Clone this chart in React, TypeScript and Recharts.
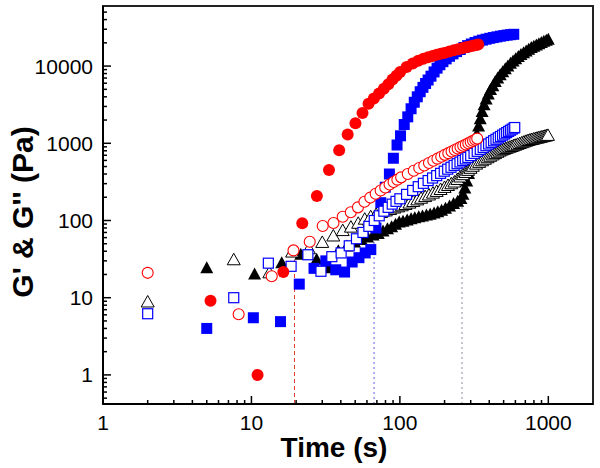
import React from 'react';
import { ScatterChart, Scatter, XAxis, YAxis, ReferenceLine, ReferenceArea, Label } from 'recharts';

// [time (s), modulus (Pa)]
const redStorage: [number, number][] = [
  [5.3, 9.1], [11, 1.0], [16.4, 21.5], [22, 92], [27.6, 207], [33.3, 450], [39, 810], [44.5, 1300],
  [50.2, 1820], [56, 2460], [61.5, 3250], [66.8, 3800], [72.4, 4400], [78, 5100], [83.6, 5800],
  [89.2, 6700], [94.8, 7500], [100.4, 8400], [111, 9700], [122, 10800], [133, 11700], [144, 12400],
  [155, 13000], [166, 13500], [177, 14000], [188, 14400], [199, 14800], [215, 15400], [231, 16000],
  [247, 16500], [263, 17000], [279, 17500], [295, 17900], [311, 18300], [327, 18700], [337, 19000],
];
const redLoss: [number, number][] = [
  [2, 21], [8.2, 6.1], [13.7, 19], [19.2, 41], [24.7, 53], [30.2, 85], [35.7, 93], [41.2, 112],
  [46.7, 128], [52.2, 148], [57.7, 175], [63.2, 198], [68.7, 222], [74.2, 245], [79.7, 268],
  [85.2, 292], [90.7, 315], [96.2, 338], [102, 362], [113, 400], [124, 440], [135, 478], [146, 516],
  [157, 555], [168, 595], [179, 632], [190, 670], [201, 708], [212, 745], [223, 782], [234, 820],
  [245, 856], [256, 892], [267, 930], [278, 966], [289, 1002], [300, 1040], [311, 1076],
  [322, 1112], [332, 1150],
];
const blueStorage: [number, number][] = [
  [5, 4.0], [10.3, 5.5], [15.7, 4.9], [21, 15], [26.4, 24], [31.7, 30], [37, 23], [42.4, 21.5],
  [47.7, 29], [53, 33], [58.4, 38], [63.7, 42], [69, 80], [74.4, 170], [79.7, 270], [85, 400],
  [90.4, 640], [95.7, 950], [101, 1250], [107, 1750], [113, 2200], [119, 2800], [125, 3400],
  [131, 4000], [137, 4650], [143, 5300], [149, 5950], [155, 6600], [162, 7400], [170, 8400],
  [178, 9400], [186, 10400], [195, 11400], [205, 12400], [216, 13400], [228, 14400], [241, 15400],
  [255, 16400], [270, 17400], [286, 18400], [303, 19300], [321, 20200], [340, 21000], [360, 21700],
  [381, 22300], [403, 22900], [426, 23400], [450, 23900], [475, 24400], [501, 24800], [528, 25200],
  [556, 25500], [585, 25800],
];
const blueLoss: [number, number][] = [
  [2, 6.2], [7.6, 10], [13, 28], [18.5, 25.5], [24, 36], [29.4, 22], [34.8, 34], [40.2, 38],
  [45.6, 47], [51, 58], [56.4, 70], [61.8, 84], [67.2, 100], [72.6, 115], [78, 132], [83.4, 148],
  [88.8, 163], [94.2, 177], [100, 191], [111, 218], [122, 245], [133, 274], [144, 303], [155, 329],
  [166, 355], [177, 381], [188, 408], [199, 435], [210, 462], [221, 489], [232, 517], [243, 544],
  [254, 572], [265, 599], [276, 627], [287, 656], [300, 694], [316, 740], [332, 787], [348, 834],
  [364, 882], [380, 931], [396, 980], [412, 1028], [428, 1078], [444, 1126], [460, 1175],
  [476, 1225], [492, 1274], [508, 1324], [524, 1375], [540, 1425], [556, 1476], [572, 1527],
  [588, 1578], [594, 1600],
];
const blackStorage: [number, number][] = [
  [5, 24], [10.5, 20], [16, 28], [21.5, 36], [27.5, 31], [33, 24], [38.5, 40], [44, 46], [49.5, 52],
  [55, 56], [60.5, 60], [66, 64], [71.5, 67], [77, 72], [82.5, 77], [88, 82], [93.5, 88], [99, 94],
  [105, 96], [112, 100], [119, 104], [126, 107], [134, 110], [142, 113], [151, 116], [160, 119],
  [170, 123], [180, 128], [191, 134], [203, 142], [216, 152], [230, 163], [245, 175], [258, 190],
  [266, 215], [274, 260], [282, 320], [290, 400], [298, 500], [306, 600], [314, 760], [322, 1000],
  [330, 1300], [339, 1650], [348, 2050], [358, 2550], [369, 3100], [381, 3700], [394, 4300],
  [408, 4900], [423, 5500], [439, 6200], [456, 6900], [474, 7600], [493, 8300], [513, 9100],
  [534, 9900], [556, 10700], [579, 11500], [603, 12300], [628, 13100], [654, 13900], [681, 14700],
  [709, 15500], [738, 16300], [768, 17100], [799, 17800], [831, 18500], [864, 19200], [898, 19900],
  [933, 20600], [969, 21300], [1000, 22000],
];
const blackLoss: [number, number][] = [
  [2, 8.8], [7.6, 31], [13.2, 21], [18.8, 39], [24.4, 43], [30, 52], [35.6, 63], [41.2, 74],
  [46.8, 82], [52.4, 92], [58, 104], [63.6, 112], [69.2, 120], [74.8, 127], [80.4, 133], [86, 139],
  [91.6, 145], [97.2, 150], [103, 155], [109, 161], [116, 168], [123, 176], [131, 185], [139, 194],
  [148, 204], [157, 214], [167, 226], [177, 238], [188, 252], [200, 268], [211, 284], [222, 299],
  [233, 315], [244, 340], [255, 366], [266, 392], [277, 419], [288, 446], [299, 474], [310, 504],
  [326, 537], [342, 566], [358, 594], [374, 622], [390, 650], [406, 679], [422, 707], [438, 735],
  [454, 764], [470, 792], [486, 817], [502, 836], [518, 855], [534, 873], [550, 891], [566, 909],
  [582, 927], [598, 944], [620, 969], [642, 993], [664, 1017], [686, 1040], [708, 1063], [730, 1086],
  [752, 1104], [774, 1119], [796, 1135], [818, 1150], [840, 1165], [862, 1180], [884, 1195],
  [906, 1209], [928, 1223], [950, 1237], [972, 1251], [994, 1265],
];

// gel points (crossover) with the height the dashed marker reaches
const gelTimes = [19.5, 67, 262];
const gelTops = [38, 58, 165];
const gelColors = ['#e8382f', '#5b5bea', '#8c8ca8'];

const xMajor = [1, 10, 100, 1000];
const xTicks = [1, 2, 3, 4, 5, 6, 7, 8, 9, 10, 20, 30, 40, 50, 60, 70, 80, 90, 100, 200, 300, 400, 500, 600, 700, 800, 900, 1000];
const yMajor = [1, 10, 100, 1000, 10000];
const yTicks = [0.5, 0.6, 0.7, 0.8, 0.9, 1, 2, 3, 4, 5, 6, 7, 8, 9, 10, 20, 30, 40, 50, 60, 70, 80, 90, 100, 200, 300, 400, 500, 600, 700, 800, 900, 1000, 2000, 3000, 4000, 5000, 6000, 7000, 8000, 9000, 10000, 20000, 30000, 40000, 50000];

const X_DOMAIN = [1, 2000];
const Y_DOMAIN = [0.42, 60000];
const FONT = "Arial, 'Liberation Sans', sans-serif";

const pts = (a: [number, number][]) => a.map(([t, v]) => ({ t, v }));

const XTick = (p: any) => {
  const major = xMajor.includes(p.payload.value);
  return (
    <g>
      <line x1={p.x} x2={p.x} y1={p.y} y2={p.y - (major ? 8 : 4)} stroke="#000" strokeWidth={1.5} />
      {major && (
        <text x={p.x} y={p.y + 26} textAnchor="middle" fontSize={21} fontFamily={FONT} fill="#000">{p.payload.value}</text>
      )}
    </g>
  );
};

const YTick = (p: any) => {
  const major = yMajor.includes(p.payload.value);
  return (
    <g>
      <line x1={p.x} x2={p.x + (major ? 8 : 4)} y1={p.y} y2={p.y} stroke="#000" strokeWidth={1.5} />
      {major && (
        <text x={p.x - 10} y={p.y} dy="0.36em" textAnchor="end" fontSize={21} fontFamily={FONT} fill="#000">{p.payload.value}</text>
      )}
    </g>
  );
};

const dot = (fill: string) => (p: any) => <circle cx={p.cx} cy={p.cy} r={6} fill={fill} />;
const ring = (stroke: string) => (p: any) => <circle cx={p.cx} cy={p.cy} r={5.5} fill="#fff" stroke={stroke} strokeWidth={1.1} />;
const box = (fill: string) => (p: any) => <rect x={p.cx - 5.5} y={p.cy - 5.5} width={11} height={11} fill={fill} />;
const openBox = (stroke: string) => (p: any) => (
  <rect x={p.cx - 5} y={p.cy - 5} width={10} height={10} fill="#fff" stroke={stroke} strokeWidth={1.2} />
);
const tri = (fill: string) => (p: any) => (
  <polygon points={`${p.cx},${p.cy - 7} ${p.cx - 6.5},${p.cy + 5} ${p.cx + 6.5},${p.cy + 5}`} fill={fill} />
);
const openTri = (stroke: string) => (p: any) => (
  <polygon points={`${p.cx},${p.cy - 6.5} ${p.cx - 6.5},${p.cy + 5} ${p.cx + 6.5},${p.cy + 5}`} fill="#fff" stroke={stroke} strokeWidth={1} />
);

export default function App() {
  return (
    <div style={{ position: 'absolute', left: 0, top: 0, width: 600, height: 468, background: '#fff' }}>
      <ScatterChart width={600} height={468} margin={{ top: 6, right: 7, bottom: 0, left: 0 }}>
        <XAxis
          dataKey="t" type="number" scale="log" domain={X_DOMAIN} allowDataOverflow
          ticks={xTicks} interval={0} tickSize={0} tickMargin={0} tick={XTick}
          height={64} axisLine={{ stroke: '#000', strokeWidth: 2 }} tickLine={false}
        >
          <Label content={() => (
            <text x={334} y={457} textAnchor="middle" fontSize={28} fontWeight="bold" fontFamily={FONT} fill="#000">Time (s)</text>
          )} />
        </XAxis>
        <YAxis
          dataKey="v" type="number" scale="log" domain={Y_DOMAIN} allowDataOverflow
          ticks={yTicks} interval={0} tickSize={0} tickMargin={0} tick={YTick}
          width={103} axisLine={{ stroke: '#000', strokeWidth: 2 }} tickLine={false}
        >
          <Label content={() => (
            <text x={33} y={212} transform="rotate(-90 33 212)" textAnchor="middle" fontSize={30} fontWeight="bold" fontFamily={FONT} fill="#000">G' &amp; G'' (Pa)</text>
          )} />
        </YAxis>
        <ReferenceArea x1={X_DOMAIN[0]} x2={X_DOMAIN[1]} y1={Y_DOMAIN[0]} y2={Y_DOMAIN[1]} fill="none" fillOpacity={0} stroke="#222" strokeWidth={2} />
        {gelTimes.map((g, i) => (
          <ReferenceLine
            key={g}
            segment={[{ x: g, y: Y_DOMAIN[0] }, { x: g, y: gelTops[i] }]}
            stroke={gelColors[i]} strokeWidth={1} strokeDasharray={i === 0 ? '4 3' : '2 3'}
          />
        ))}
        <Scatter data={pts(blackStorage)} shape={tri('#000')} isAnimationActive={false} />
        <Scatter data={pts(blackLoss)} shape={openTri('#000')} isAnimationActive={false} />
        <Scatter data={pts(blueStorage)} shape={box('#0000ff')} isAnimationActive={false} />
        <Scatter data={pts(blueLoss)} shape={openBox('#0000ff')} isAnimationActive={false} />
        <Scatter data={pts(redLoss)} shape={ring('#ff0000')} isAnimationActive={false} />
        <Scatter data={pts(redStorage)} shape={dot('#ff0000')} isAnimationActive={false} />
      </ScatterChart>
    </div>
  );
}
